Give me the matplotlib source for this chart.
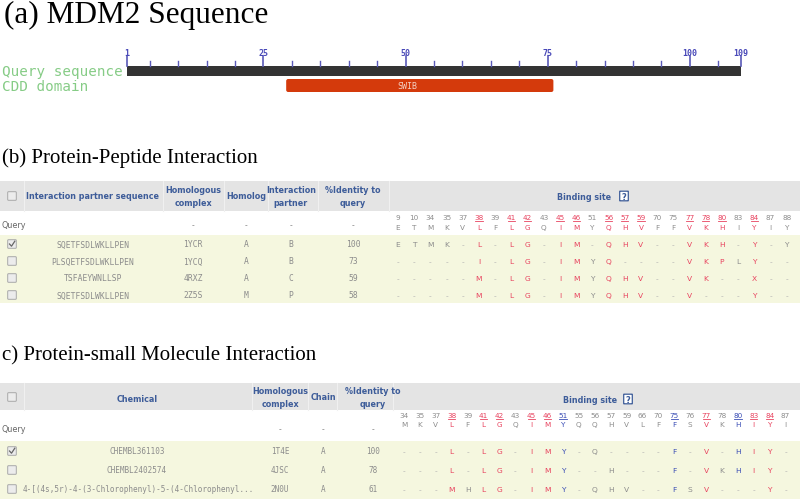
import matplotlib
matplotlib.use('Agg')
import matplotlib.pyplot as plt
import matplotlib.patches as mpatches

# ── data ──────────────────────────────────────────────
seq_len = 109
ruler_major = [1, 25, 50, 75, 100, 109]
ruler_minor = [5, 10, 15, 20, 30, 35, 40, 45, 55, 60, 65, 70, 80, 85, 90, 95, 105]
domain_name = 'SWIB'
domain_start, domain_end = 29, 76

pep_seqs = ['SQETFSDLWKLLPEN', 'PLSQETFSDLWKLLPEN', 'TSFAEYWNLLSP', 'SQETFSDLWKLLPEN']
pep_complex = ['1YCR', '1YCQ', '4RXZ', '2Z5S']
pep_homolog = ['A', 'A', 'A', 'M']
pep_partner = ['B', 'B', 'C', 'P']
pep_identity = [100, 73, 59, 58]
pep_checked = [True, False, False, False]
pep_sites = [9, 10, 34, 35, 37, 38, 39, 41, 42, 43, 45, 46, 51, 56, 57, 59, 70, 75, 77, 78, 80, 83, 84, 87, 88]
pep_query = 'ETMKVLFLGQIMYQHVFFVKHIYIY'
pep_red = [38, 41, 42, 45, 46, 56, 57, 59, 77, 78, 80, 84]
pep_rows = ['ETMK-L-LG-IM-QHV--VKH-Y-Y',
            '-----I-LG-IMYQ----VKPLY--',
            '-----M-LG-IMYQHV--VK--X--',
            '-----M-LG-IMYQHV--V---Y--']

chem_names = ['CHEMBL361103', 'CHEMBL2402574',
              '4-[(4s,5r)-4-(3-Chlorophenyl)-5-(4-Chlorophenyl...']
chem_complex = ['1T4E', '4JSC', '2N0U']
chem_chain = ['A', 'A', 'A']
chem_identity = [100, 78, 61]
chem_checked = [True, False, False]
chem_sites = [34, 35, 37, 38, 39, 41, 42, 43, 45, 46, 51, 55, 56, 57, 59, 66, 70, 75, 76, 77, 78, 80, 83, 84, 87]
chem_query = 'MKVLFLGQIMYQQHVLFFSVKHIYI'
chem_red = [38, 41, 42, 45, 46, 77, 83, 84]
chem_blue = [51, 75, 80]
chem_rows = ['---L-LG-IMY-Q----F-V-HIY-',
             '---L-LG-IMY--H---F-VKHIY-',
             '---MHLG-IMY-QHV--FSV---Y-']

# ── styles ────────────────────────────────────────────
HDR_BG = '#e4e4e4'
HDR_TXT = '#3d5c99'
ROW_BG = '#f5f7df'
GRAY = '#8c8c8c'
DASH = '#b0b0b0'
RED = '#e8435f'
BLUE = '#3a4db5'
SERIF = 'Liberation Serif'
MONO = 'DejaVu Sans Mono'

fig = plt.figure(figsize=(8, 5.02), dpi=100)
ax = fig.add_axes([0, 0, 1, 1])
ax.set_xlim(0, 800)
ax.set_ylim(502, 0)
ax.axis('off')


def checkbox(x, y, checked):
    box = mpatches.FancyBboxPatch((x - 3.5, y - 3.5), 7, 7, boxstyle='round,pad=0.8',
                                  facecolor='#ececec', edgecolor='#a8a8a8', linewidth=0.7)
    ax.add_patch(box)
    if checked:
        ax.plot([x - 2.5, x - 0.5, x + 2.8], [y, y + 2.2, y - 2.8], color='#666666', lw=0.9)


def help_icon(x, y):
    box = mpatches.FancyBboxPatch((x - 4, y - 4.5), 8, 9, boxstyle='round,pad=0.3',
                                  facecolor='white', edgecolor=HDR_TXT, linewidth=0.9)
    ax.add_patch(box)
    ax.text(x, y + 0.5, '?', ha='center', va='center', fontsize=6, color=HDR_TXT,
            fontweight='bold')


def col_color(site, red, blue):
    if site in red:
        return RED
    if site in blue:
        return BLUE
    return GRAY


def binding_block(sites, query, rows, red, blue, x0, dx, y_num, y_let, row_ys):
    for i, s in enumerate(sites):
        x = x0 + i * dx
        c = col_color(s, red, blue)
        ax.text(x, y_num, str(s), ha='center', va='center', fontsize=5.2, color=c)
        if c != GRAY:
            w = 3.6 if s >= 10 else 1.8
            ax.plot([x - w, x + w], [y_num + 4, y_num + 4], color=c, lw=0.6)
        ax.text(x, y_let, query[i], ha='center', va='center', fontsize=5.2, color=c)
        for r, y in zip(rows, row_ys):
            ch = r[i]
            ax.text(x, y, ch, ha='center', va='center', fontsize=5.4,
                    color=DASH if ch == '-' else c)


# ── (a) MDM2 sequence ─────────────────────────────────
ax.text(4, 15, '(a) MDM2 Sequence', ha='left', va='center', fontsize=22.5, family=SERIF)
x_first, x_last = 127, 741
ux = (x_last - x_first) / (seq_len - 1)
ax.add_patch(mpatches.Rectangle((x_first, 67), x_last - x_first, 10, facecolor='#333333',
                                edgecolor='none'))
for p in ruler_major:
    x = x_first + (p - 1) * ux
    ax.plot([x, x], [57, 67], color='#5a5ab8', lw=1.2)
    ax.text(x, 53, str(p), ha='center', va='center', fontsize=6, color='#4848b8',
            family=MONO, fontweight='bold')
for p in ruler_minor:
    x = x_first + (p - 1) * ux
    ax.plot([x, x], [62, 67], color='#5a5ab8', lw=1.0)
ds = x_first + (domain_start - 1) * ux
de = x_first + (domain_end - 1) * ux
ax.add_patch(mpatches.FancyBboxPatch((ds + 2, 82), de - ds - 4, 9, boxstyle='round,pad=2',
                                     facecolor='#d43a0c', edgecolor='none'))
ax.text(ds + 0.5 * (de - ds) - 12, 86.5, domain_name, ha='center', va='center', fontsize=6,
        color='#f4d0c4', family=MONO)
ax.text(2, 72, 'Query sequence', ha='left', va='center', fontsize=10.3, color='#86cc86',
        family=MONO)
ax.text(2, 87, 'CDD domain', ha='left', va='center', fontsize=10.3, color='#86cc86',
        family=MONO)

# ── (b) protein-peptide ───────────────────────────────
ax.text(2, 158, '(b) Protein-Peptide Interaction', ha='left', va='center', fontsize=15,
        family=SERIF)
ax.add_patch(mpatches.Rectangle((0, 182), 800, 30, facecolor=HDR_BG, edgecolor='none'))
ax.add_patch(mpatches.Rectangle((0, 236), 800, 68, facecolor=ROW_BG, edgecolor='none'))
for xs in [24, 163, 224, 268, 318, 389]:
    ax.plot([xs, xs], [182, 212], color='#f0f0f0', lw=0.8)
checkbox(12, 197, False)
hb = dict(ha='center', va='center', fontsize=5.8, color=HDR_TXT, fontweight='bold',
          linespacing=1.5)
ax.text(93, 197, 'Interaction partner sequence', **hb)
ax.text(193, 197, 'Homologous\ncomplex', **hb)
ax.text(246, 197, 'Homolog', **hb)
ax.text(291, 197, 'Interaction\npartner', **hb)
ax.text(353, 197, '%Identity to\nquery', **hb)
ax.text(584, 198, 'Binding site', **hb)
help_icon(624, 197)
ax.text(2, 226, 'Query', ha='left', va='center', fontsize=5.8, color='#666666')
for x in [193, 246, 291, 353]:
    ax.text(x, 226, '-', ha='center', va='center', fontsize=5.5, color=GRAY)
pep_ys = [245, 262, 279, 296]
for i, y in enumerate(pep_ys):
    checkbox(12, y, pep_checked[i])
    cell = dict(ha='center', va='center', fontsize=5.8, color=GRAY, family=MONO)
    ax.text(93, y, pep_seqs[i], **cell)
    ax.text(193, y, pep_complex[i], **cell)
    ax.text(246, y, pep_homolog[i], **cell)
    ax.text(291, y, pep_partner[i], **cell)
    ax.text(353, y, str(pep_identity[i]), **cell)
binding_block(pep_sites, pep_query, pep_rows, pep_red, [], 398, 16.2, 218, 228, pep_ys)

# ── (c) protein-small molecule ────────────────────────
ax.text(2, 356, 'c) Protein-small Molecule Interaction', ha='left', va='center', fontsize=15,
        family=SERIF)
ax.add_patch(mpatches.Rectangle((0, 384), 800, 27, facecolor=HDR_BG, edgecolor='none'))
ax.add_patch(mpatches.Rectangle((0, 442), 800, 58, facecolor=ROW_BG, edgecolor='none'))
for xs in [24, 252, 308, 337, 393]:
    ax.plot([xs, xs], [384, 411], color='#f0f0f0', lw=0.8)
checkbox(12, 398, False)
ax.text(137, 400, 'Chemical', **hb)
ax.text(280, 398, 'Homologous\ncomplex', **hb)
ax.text(323, 398, 'Chain', **hb)
ax.text(373, 398, '%Identity to\nquery', **hb)
ax.text(590, 401, 'Binding site', **hb)
help_icon(628, 400)
ax.text(2, 430, 'Query', ha='left', va='center', fontsize=5.8, color='#666666')
for x in [280, 323, 373]:
    ax.text(x, 430, '-', ha='center', va='center', fontsize=5.5, color=GRAY)
chem_ys = [452, 471, 490]
for i, y in enumerate(chem_ys):
    checkbox(12, y, chem_checked[i])
    cell = dict(ha='center', va='center', fontsize=5.5, color=GRAY, family=MONO)
    if len(chem_names[i]) > 20:
        ax.text(23, y, chem_names[i], ha='left', va='center', fontsize=5.5, color=GRAY,
                family=MONO)
    else:
        ax.text(137, y, chem_names[i], **cell)
    ax.text(280, y, chem_complex[i], **cell)
    ax.text(323, y, chem_chain[i], **cell)
    ax.text(373, y, str(chem_identity[i]), **cell)
binding_block(chem_sites, chem_query, chem_rows, chem_red, chem_blue, 404, 15.9, 416, 425,
              chem_ys)

fig.savefig('out.png', dpi=100)
